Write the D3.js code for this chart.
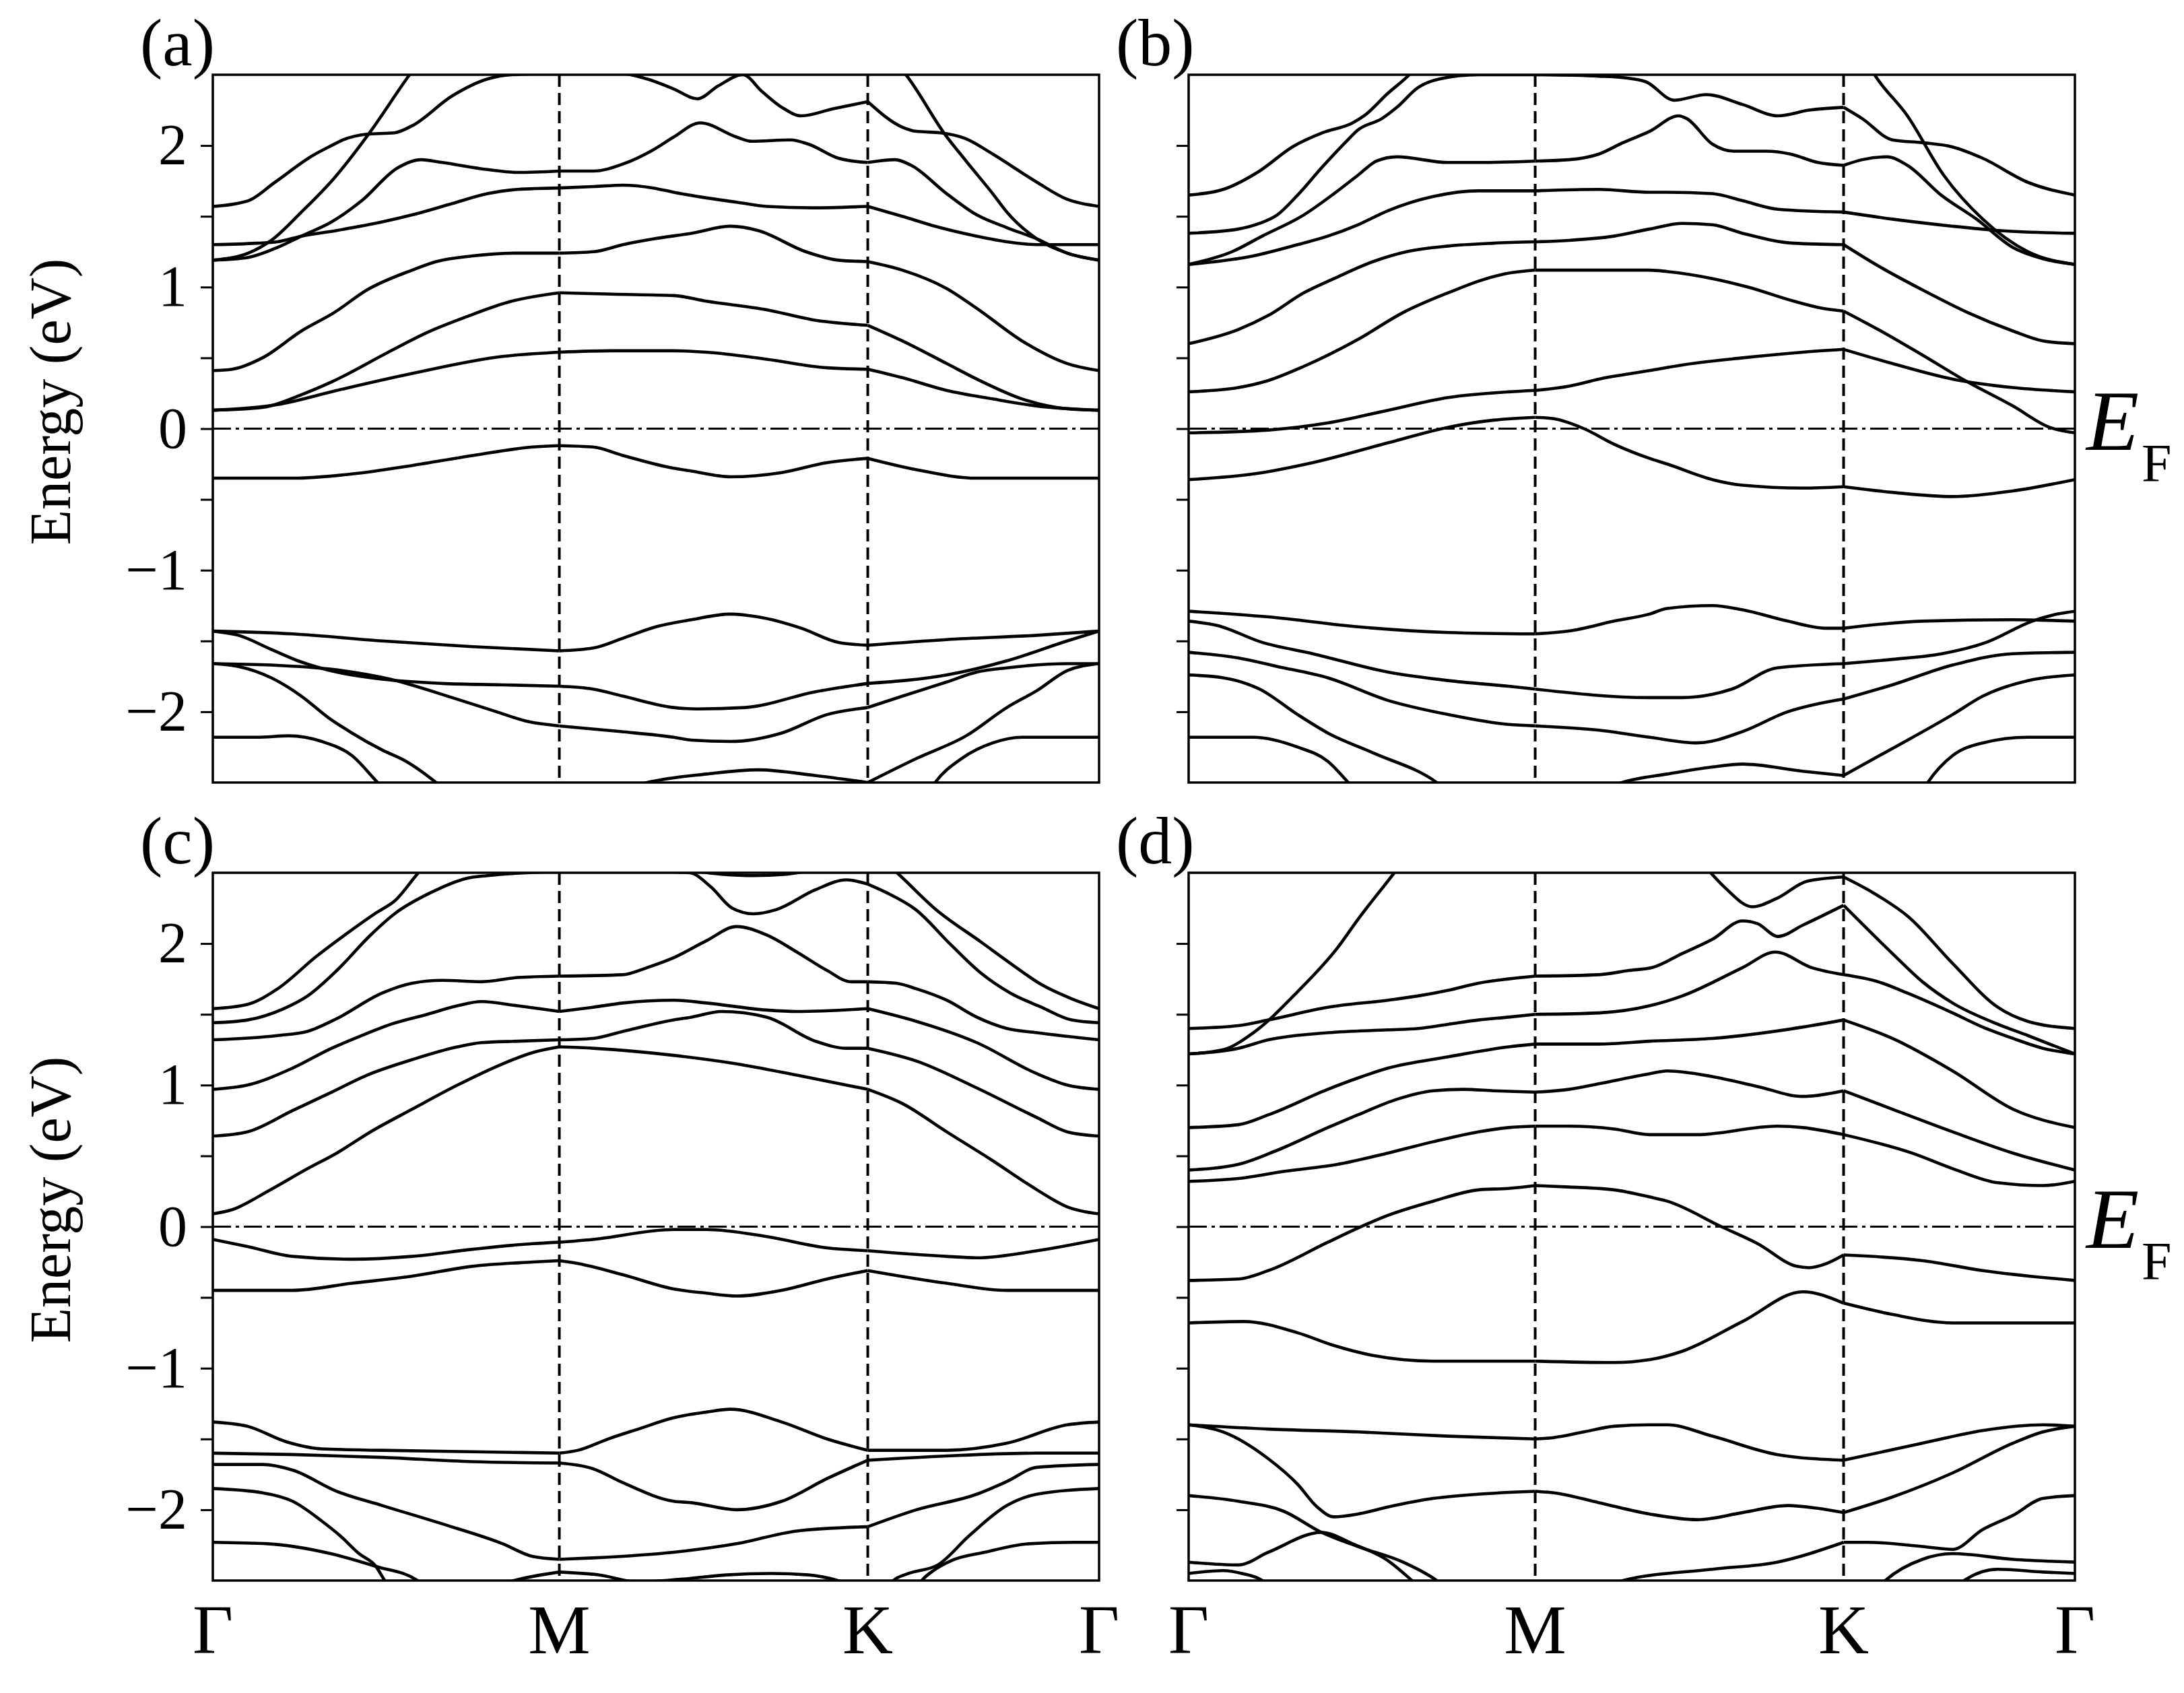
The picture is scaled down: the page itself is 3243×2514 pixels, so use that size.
<!DOCTYPE html>
<html>
<script src="https://d3js.org/d3.v7.min.js"></script>

<head>
    <style>
        body {
            margin: 0;
            background-color: #ffffff;
        }

        svg {
            display: block;
        }
    </style>
</head>

<body>
</body>
<script>
    // k path positions (percent of path length) and names
    const kMarks = [0, 39.1, 73.9, 100];
    const kNames = ["Γ", "M", "K", "Γ"];
    const eTicks = [-2, -1.5, -1, -0.5, 0, 0.5, 1, 1.5, 2];
    const panelTags = ["(a)", "(b)", "(c)", "(d)"];

    // each band: [k, energy in eV]
    const bandsA = [
        [[0,1.57],[4,1.61],[7,1.74],[11.3,1.93],[13.4,2.0],[14.7,2.04],[17.4,2.08],[20.5,2.09],[22.5,2.14],[27,2.35],[31,2.47],[33.7,2.5],[39.1,2.51],[45.9,2.51],[49,2.47],[52,2.4],[54.7,2.33],[57,2.42],[59.8,2.5],[62,2.38],[64.2,2.27],[66.4,2.21],[70,2.26],[73.9,2.31],[77.8,2.13],[79.4,2.10],[82.1,2.09],[84.9,2.05],[88,1.94],[93,1.74],[96.4,1.62],[100,1.57]],
        [[0,1.19],[4,1.21],[7.3,1.28],[10,1.36],[13.4,1.46],[16.8,1.61],[20.8,1.84],[23.5,1.90],[25.9,1.88],[31,1.83],[34.4,1.81],[39.1,1.82],[43,1.82],[46.3,1.87],[49.7,1.97],[52,2.06],[55,2.16],[59.1,2.06],[60.8,2.03],[65.2,2.04],[67.2,2.01],[70.6,1.91],[73.9,1.88],[77,1.90],[78.8,1.86],[82.8,1.66],[86.2,1.51],[89.6,1.42],[93,1.34],[96.4,1.24],[100,1.19]],
        [[0,1.30],[5,1.31],[7.3,1.32],[10,1.36],[14,1.40],[19.1,1.46],[22.5,1.51],[27,1.59],[31,1.66],[34.4,1.69],[39.1,1.70],[43,1.71],[46.3,1.72],[49.7,1.70],[52,1.67],[55.7,1.63],[59.1,1.60],[62.5,1.57],[67.6,1.56],[73.9,1.57],[77.8,1.50],[81.5,1.43],[86.2,1.36],[89.6,1.32],[93,1.30],[100,1.30]],
        [[0,1.19],[4,1.24],[6.6,1.33],[10,1.53],[13.7,1.77],[17.8,2.10],[22.2,2.5],[24,2.65]],
        [[76,2.65],[78.2,2.5],[82.6,2.08],[85,1.89],[88,1.66],[89.6,1.53],[93,1.34],[96.4,1.24],[100,1.19]],
        [[0,0.41],[2.2,0.42],[5.6,0.50],[10,0.69],[13.7,0.82],[17.4,0.98],[22.5,1.12],[25.2,1.18],[29.3,1.22],[34.4,1.24],[39.1,1.24],[43,1.25],[46.3,1.30],[49.7,1.34],[54,1.38],[58.4,1.43],[61.5,1.40],[66.9,1.25],[70.6,1.19],[73.9,1.18],[77.8,1.12],[82.8,0.99],[86.2,0.85],[91.3,0.62],[96.4,0.46],[100,0.41]],
        [[0,0.13],[5.6,0.15],[10,0.24],[13.4,0.33],[19.8,0.54],[24.2,0.68],[28.6,0.79],[33.7,0.90],[39.1,0.96],[45,0.95],[52,0.94],[55.7,0.90],[62.5,0.84],[67.6,0.77],[73.9,0.73],[77.8,0.62],[82.8,0.46],[86.2,0.35],[91.3,0.21],[96.4,0.14],[100,0.13]],
        [[0,0.13],[7.3,0.17],[14,0.27],[22.5,0.39],[32.7,0.51],[39.1,0.54],[45,0.55],[52,0.55],[55.7,0.54],[62.5,0.49],[69.3,0.43],[73.9,0.42],[77.8,0.36],[82.8,0.27],[88,0.21],[93,0.16],[100,0.13]],
        [[0,-0.35],[9,-0.35],[15.7,-0.32],[22.5,-0.26],[29.3,-0.19],[36.1,-0.13],[39.1,-0.12],[42.9,-0.13],[46.3,-0.19],[52,-0.28],[54,-0.30],[58.4,-0.34],[64.2,-0.31],[69.3,-0.24],[73.9,-0.21],[79.4,-0.29],[86.2,-0.35],[100,-0.35]],
        [[0,-1.43],[9,-1.45],[19.1,-1.50],[29.3,-1.54],[39.1,-1.57],[42.9,-1.55],[46.3,-1.48],[50,-1.40],[54,-1.35],[58.4,-1.31],[61.5,-1.33],[66.4,-1.41],[70.6,-1.51],[73.9,-1.53],[82.8,-1.49],[93,-1.46],[100,-1.43]],
        [[0,-1.43],[2.9,-1.46],[6.6,-1.56],[9.6,-1.64],[14,-1.72],[19.1,-1.77],[25.9,-1.80],[32.7,-1.81],[39.1,-1.82],[42.9,-1.84],[46.3,-1.89],[52,-1.97],[54.7,-1.98],[60.1,-1.97],[67.9,-1.86],[73.9,-1.80],[82.8,-1.74],[89.6,-1.64],[96.4,-1.50],[100,-1.43]],
        [[0,-1.66],[6.6,-1.67],[13.4,-1.70],[20,-1.77],[27,-1.90],[32,-2.0],[35.6,-2.07],[39.1,-2.10],[46,-2.14],[52,-2.18],[54,-2.2],[58.4,-2.21],[64.2,-2.15],[69.3,-2.02],[73.9,-1.97],[77.8,-1.89],[82.8,-1.79],[86.2,-1.72],[89.6,-1.69],[96.4,-1.66],[100,-1.66]],
        [[0,-1.66],[2.9,-1.68],[6.6,-1.76],[10,-1.89],[13,-2.04],[15.7,-2.15],[19.1,-2.27],[21.8,-2.35],[25.2,-2.5],[28,-2.65]],
        [[44,-2.6],[49,-2.5],[55.7,-2.44],[61.5,-2.41],[67.9,-2.45],[73.9,-2.50],[79.4,-2.33],[85,-2.17],[89.6,-1.97],[93,-1.85],[96.4,-1.71],[100,-1.66]],
        [[0,-2.18],[5,-2.18],[8.6,-2.17],[12.3,-2.21],[15.7,-2.31],[18.6,-2.5],[21,-2.65]],
        [[80,-2.65],[81.5,-2.5],[84.5,-2.33],[88,-2.22],[91.3,-2.18],[100,-2.18]]
    ];

    const bandsB = [
        [[0,1.65],[3.9,1.69],[8,1.82],[11.7,1.99],[15.1,2.09],[18.5,2.16],[19.8,2.21],[22.5,2.37],[24.9,2.5],[27,2.65]],
        [[0,1.38],[5.6,1.41],[8,1.45],[10,1.51],[12.3,1.65],[15.1,1.85],[17.8,2.03],[19.1,2.11],[21.8,2.19],[23.5,2.27],[25.9,2.41],[28.3,2.47],[32.7,2.50],[39.1,2.50],[46.3,2.49],[49,2.48],[51.6,2.45],[54.8,2.32],[58.4,2.36],[62.5,2.29],[66.5,2.21],[70,2.25],[73.9,2.27],[76,2.19],[79.4,2.04],[82.8,2.02],[86.2,1.99],[89.6,1.91],[94.7,1.74],[100,1.65]],
        [[0,1.16],[4.9,1.25],[8.3,1.36],[13,1.51],[16.4,1.66],[19.1,1.79],[21.2,1.89],[23.5,1.92],[29.3,1.88],[32.7,1.88],[39.1,1.89],[42.9,1.90],[46.3,1.94],[49,2.02],[52,2.10],[55.3,2.21],[56.2,2.19],[59.1,2.01],[61.5,1.96],[65.2,1.96],[67.9,1.94],[71,1.88],[73.9,1.86],[76,1.90],[78.8,1.92],[81.1,1.86],[84.9,1.65],[88.9,1.48],[93,1.28],[96.4,1.20],[100,1.16]],
        [[76,2.65],[77.4,2.5],[81.1,2.21],[85.2,1.79],[89.6,1.48],[94.7,1.25],[100,1.16]],
        [[0,1.16],[7.3,1.22],[12.3,1.30],[15.7,1.36],[19.1,1.44],[22.5,1.54],[27.6,1.64],[32.7,1.68],[39.1,1.68],[46.3,1.69],[52,1.67],[54,1.67],[59.1,1.66],[62.5,1.61],[66.5,1.55],[73.9,1.53],[79.4,1.48],[86.2,1.43],[91.3,1.40],[100,1.38]],
        [[0,0.60],[5.6,0.70],[9,0.80],[13,0.96],[16.4,1.06],[20.8,1.18],[24.6,1.25],[29.3,1.29],[34.4,1.31],[39.1,1.32],[42.9,1.33],[48,1.36],[52,1.41],[55.7,1.45],[59.1,1.44],[62.5,1.38],[68.3,1.31],[73.9,1.30],[77.8,1.15],[82.8,0.98],[87.9,0.82],[93,0.69],[96.4,0.62],[100,0.60]],
        [[0,0.26],[5.6,0.29],[9,0.34],[13,0.44],[19.1,0.63],[24.2,0.82],[29.3,0.96],[35.4,1.09],[39.1,1.12],[45,1.12],[52,1.12],[54,1.11],[59.1,1.06],[63.1,1.00],[68.3,0.90],[71.5,0.85],[73.9,0.83],[77.8,0.70],[82.8,0.52],[87.6,0.34],[93,0.16],[97.1,0.01],[100,-0.03]],
        [[0,-0.03],[9,-0.01],[15.7,0.04],[22.5,0.13],[29.3,0.22],[36.1,0.26],[39.1,0.27],[42.9,0.30],[46.3,0.35],[52,0.41],[55.7,0.45],[62.5,0.50],[69.3,0.54],[73.9,0.56],[79.4,0.46],[86.2,0.35],[93,0.29],[100,0.26]],
        [[0,-0.36],[7.3,-0.32],[14,-0.24],[22.5,-0.10],[29.3,0.01],[34.4,0.06],[39.1,0.08],[41.2,0.07],[44.6,0.0],[48,-0.11],[52,-0.21],[54,-0.25],[59.1,-0.36],[62.5,-0.40],[69.3,-0.42],[73.9,-0.41],[79.4,-0.45],[86.2,-0.48],[93,-0.44],[100,-0.36]],
        [[0,-1.29],[9,-1.33],[19.1,-1.40],[29.3,-1.44],[39.1,-1.45],[42.9,-1.43],[48,-1.36],[52,-1.31],[54,-1.27],[59.1,-1.25],[62.5,-1.28],[67.6,-1.36],[72,-1.41],[73.9,-1.41],[82.8,-1.36],[93,-1.35],[100,-1.36]],
        [[0,-1.36],[3.2,-1.39],[8.3,-1.51],[14,-1.59],[22.5,-1.72],[29.3,-1.78],[36.1,-1.82],[39.1,-1.84],[52,-1.90],[55.7,-1.90],[61.3,-1.84],[66.4,-1.69],[73.9,-1.66],[79.4,-1.63],[85,-1.59],[90,-1.51],[95.2,-1.36],[98,-1.31],[100,-1.29]],
        [[0,-1.58],[5.6,-1.62],[10,-1.68],[15.7,-1.76],[22.5,-1.92],[29.3,-2.02],[36.1,-2.09],[39.1,-2.10],[46.3,-2.13],[52,-2.18],[57.4,-2.22],[62.5,-2.14],[67.6,-2.00],[71.3,-1.94],[73.9,-1.91],[79.4,-1.81],[86.2,-1.67],[93,-1.59],[100,-1.58]],
        [[0,-1.74],[3.9,-1.76],[8,-1.84],[12.3,-2.02],[15.7,-2.15],[20.8,-2.29],[28,-2.5],[30,-2.6]],
        [[0,-2.18],[7.3,-2.18],[12.3,-2.25],[15.7,-2.35],[18,-2.5],[20,-2.65]],
        [[45,-2.6],[48.9,-2.5],[54,-2.44],[59.1,-2.39],[62.5,-2.37],[69.3,-2.42],[73.9,-2.45],[79.4,-2.26],[86.2,-2.02],[89.6,-1.89],[94.7,-1.78],[100,-1.74]],
        [[82,-2.65],[83.4,-2.5],[86.2,-2.31],[89.6,-2.22],[94.7,-2.18],[100,-2.18]]
    ];

    const bandsC = [
        [[0,1.54],[3.9,1.57],[7.3,1.68],[11.7,1.91],[15.1,2.07],[18.5,2.22],[20.5,2.30],[23.2,2.5],[25,2.62]],
        [[75,2.62],[77.2,2.5],[81.6,2.24],[86.7,2.01],[90,1.86],[93.5,1.71],[96.9,1.61],[100,1.54]],
        [[0,1.44],[3.9,1.46],[8,1.54],[10.7,1.63],[14,1.81],[17.8,2.06],[20.5,2.21],[24.6,2.36],[28.6,2.46],[31,2.48],[39.1,2.51],[48.9,2.51],[53.8,2.5],[56.2,2.40],[58.6,2.25],[61,2.21],[63.6,2.24],[68,2.38],[71.5,2.45],[73.9,2.42],[76,2.36],[79.3,2.24],[83.3,1.99],[86.7,1.79],[90,1.65],[93.5,1.55],[96.9,1.46],[100,1.44]],
        [[48,2.55],[53,2.52],[57.4,2.49],[61,2.48],[64.7,2.49],[68,2.52],[72,2.56]],
        [[0,1.32],[7.3,1.35],[10.7,1.38],[14,1.47],[19.1,1.65],[22.5,1.72],[25.9,1.74],[30.3,1.73],[34.4,1.76],[39.1,1.77],[46.3,1.78],[49,1.83],[52,1.90],[55.7,2.02],[59.1,2.12],[62.5,2.06],[65.9,1.94],[69.3,1.81],[72,1.73],[73.9,1.73],[77.1,1.72],[79.4,1.68],[82.8,1.60],[86.2,1.48],[89.6,1.40],[93,1.37],[100,1.32]],
        [[0,0.97],[3.9,1.00],[9,1.12],[13.4,1.26],[16.8,1.35],[20.1,1.43],[24.2,1.50],[27.6,1.56],[30.3,1.59],[34.4,1.56],[39.1,1.52],[42.9,1.55],[46.3,1.58],[52,1.60],[55.7,1.58],[62.5,1.53],[65.9,1.52],[73.9,1.54],[79.4,1.45],[86.2,1.30],[93,1.08],[96.4,1.00],[100,0.97]],
        [[0,0.64],[3.9,0.67],[9,0.82],[13.4,0.95],[17.4,1.07],[22.5,1.18],[27.6,1.27],[30.3,1.30],[34.4,1.31],[39.1,1.32],[42.9,1.33],[46.3,1.38],[52,1.46],[54,1.48],[57.4,1.52],[62.5,1.48],[68,1.31],[71.5,1.26],[73.9,1.26],[79.4,1.17],[86.2,0.98],[93,0.77],[96.4,0.67],[100,0.64]],
        [[0,0.09],[2.2,0.12],[6.2,0.25],[10.7,0.41],[14,0.52],[17.8,0.67],[22.5,0.83],[27.6,1.00],[32.7,1.15],[36.1,1.23],[39.1,1.27],[42.9,1.26],[52,1.21],[59.1,1.15],[65.9,1.07],[73.9,0.97],[77.8,0.87],[82.8,0.67],[87.9,0.47],[93,0.26],[96.4,0.14],[100,0.09]],
        [[0,-0.09],[3.9,-0.14],[9,-0.21],[15.7,-0.23],[22.5,-0.21],[29.3,-0.16],[36.1,-0.12],[39.1,-0.11],[42.9,-0.09],[52,-0.02],[55.7,-0.02],[62.5,-0.07],[69.3,-0.15],[73.9,-0.17],[82.8,-0.21],[86.2,-0.22],[93,-0.17],[100,-0.09]],
        [[0,-0.45],[9,-0.45],[15.7,-0.40],[22.5,-0.35],[29.3,-0.28],[36.1,-0.25],[39.1,-0.24],[41.2,-0.26],[46.3,-0.34],[52,-0.44],[55.7,-0.47],[59.1,-0.49],[64.2,-0.45],[69.3,-0.37],[73.9,-0.31],[82.8,-0.40],[89.6,-0.45],[100,-0.45]],
        [[0,-1.38],[3.9,-1.41],[8.3,-1.52],[12.3,-1.57],[19.1,-1.58],[29.3,-1.59],[39.1,-1.60],[41.2,-1.58],[44.6,-1.50],[48,-1.43],[52,-1.35],[55.7,-1.31],[58.4,-1.29],[64.2,-1.38],[69.3,-1.50],[73.9,-1.58],[82.8,-1.58],[89.6,-1.53],[96.4,-1.40],[100,-1.38]],
        [[0,-1.60],[9,-1.61],[19.1,-1.63],[29.3,-1.66],[39.1,-1.67],[42.9,-1.71],[46.3,-1.81],[52,-1.94],[54,-1.95],[59.1,-2.0],[64.2,-1.94],[69.3,-1.78],[73.9,-1.65],[82.8,-1.62],[93,-1.60],[100,-1.60]],
        [[0,-1.68],[5.6,-1.68],[9,-1.72],[14,-1.87],[19.1,-1.97],[25.9,-2.10],[32.7,-2.24],[36.1,-2.33],[39.1,-2.35],[42.9,-2.34],[52,-2.30],[59.1,-2.24],[65.9,-2.15],[73.9,-2.12],[79.4,-2.0],[86.2,-1.89],[89.6,-1.80],[93,-1.70],[100,-1.68]],
        [[0,-1.85],[5.6,-1.88],[9,-1.94],[12.3,-2.08],[14.3,-2.18],[16.5,-2.31],[18.4,-2.40],[19.4,-2.5],[21,-2.62]],
        [[0,-2.23],[6.2,-2.24],[13.3,-2.31],[18.4,-2.40],[23.1,-2.5],[25,-2.6]],
        [[31,-2.56],[34,-2.5],[39.1,-2.44],[43.5,-2.46],[48,-2.51],[53,-2.49],[58,-2.46],[63,-2.45],[67.2,-2.46],[70.5,-2.5],[73,-2.56]],
        [[75.5,-2.6],[76.8,-2.5],[78.5,-2.45],[81.8,-2.39],[85.4,-2.18],[89.6,-1.97],[93,-1.89],[100,-1.85]],
        [[79,-2.6],[80,-2.5],[81.3,-2.43],[83.3,-2.36],[87.1,-2.30],[92.1,-2.24],[97.2,-2.23],[100,-2.23]]
    ];

    const bandsD = [
        [[0,1.22],[3.9,1.25],[7.3,1.37],[12.3,1.66],[16.8,1.97],[19.1,2.17],[23.2,2.5],[25,2.65]],
        [[57.5,2.6],[58.9,2.5],[60.6,2.39],[63.6,2.26],[66.4,2.32],[69.8,2.44],[73.9,2.47],[77.2,2.36],[81.2,2.19],[86.2,1.86],[91.3,1.55],[94.7,1.45],[100,1.40]],
        [[0,1.40],[5.6,1.42],[9,1.46],[15.7,1.55],[22.5,1.60],[25.9,1.63],[29.3,1.67],[32.7,1.72],[36.1,1.75],[39.1,1.77],[46.3,1.78],[49.7,1.81],[52.3,1.83],[55.7,1.93],[59.1,2.03],[62.5,2.16],[64.2,2.14],[66.5,2.05],[69.3,2.13],[73.9,2.27],[79.4,1.93],[82.8,1.73],[86.2,1.58],[91.3,1.43],[94.7,1.35],[100,1.22]],
        [[0,1.22],[5.6,1.26],[9,1.32],[15.7,1.37],[22.5,1.39],[25.9,1.40],[29.3,1.43],[32.7,1.46],[36.1,1.48],[39.1,1.50],[46.3,1.51],[52,1.56],[55.7,1.63],[62.5,1.83],[66.2,1.94],[70.3,1.83],[73.9,1.78],[77.8,1.73],[81.1,1.65],[86.2,1.51],[89.6,1.41],[93,1.33],[96.4,1.26],[100,1.22]],
        [[0,0.70],[5.6,0.72],[9,0.79],[15.7,0.97],[19.1,1.05],[22.5,1.12],[29.3,1.20],[36.1,1.27],[39.1,1.29],[46.3,1.29],[52,1.31],[59.1,1.33],[69.3,1.41],[73.9,1.46],[79.4,1.33],[86.2,1.10],[93,0.83],[100,0.70]],
        [[0,0.40],[5.6,0.44],[10,0.54],[15.7,0.70],[19.1,0.79],[23.5,0.90],[27.6,0.96],[31,0.97],[34.4,0.96],[39.1,0.95],[42.9,0.97],[46.3,1.01],[52,1.08],[54,1.10],[59.1,1.06],[64.2,0.99],[69.3,0.92],[73.9,0.96],[79.4,0.83],[86.2,0.67],[93,0.52],[100,0.40]],
        [[0,0.32],[5.6,0.34],[10.7,0.39],[16.8,0.44],[22.5,0.52],[27.6,0.60],[32.7,0.67],[36.1,0.70],[39.1,0.71],[42.9,0.71],[48,0.69],[52,0.65],[57.4,0.65],[66.4,0.71],[69.3,0.70],[73.9,0.65],[81.6,0.52],[86.2,0.41],[91.3,0.31],[96.4,0.29],[100,0.32]],
        [[0,-0.38],[5.6,-0.37],[9,-0.31],[15.7,-0.11],[19.1,-0.01],[22.5,0.08],[27.6,0.18],[32.7,0.26],[36.1,0.27],[39.1,0.29],[42.9,0.28],[48,0.26],[52,0.21],[54,0.18],[60.1,0],[64.2,-0.12],[68.6,-0.28],[70,-0.29],[72,-0.26],[73.9,-0.20],[82.8,-0.24],[89.6,-0.31],[100,-0.38]],
        [[0,-0.68],[6.2,-0.67],[12.3,-0.75],[16.4,-0.84],[20.8,-0.91],[27.6,-0.95],[39.1,-0.95],[48,-0.96],[52,-0.94],[55.7,-0.88],[62.5,-0.67],[69.3,-0.46],[73.9,-0.54],[79.4,-0.62],[86.2,-0.68],[100,-0.68]],
        [[0,-1.40],[9,-1.43],[19.1,-1.45],[29.3,-1.48],[39.1,-1.50],[41.2,-1.49],[44.6,-1.45],[48,-1.41],[52,-1.40],[54,-1.40],[59.1,-1.48],[66.4,-1.61],[73.9,-1.65],[82.8,-1.53],[89.6,-1.44],[96.4,-1.40],[100,-1.41]],
        [[0,-1.40],[3.9,-1.45],[9,-1.64],[12.3,-1.82],[14.5,-1.98],[16.4,-2.05],[19.1,-2.03],[22.5,-1.98],[27.6,-1.92],[32.7,-1.89],[39.1,-1.87],[41.2,-1.88],[46.3,-1.95],[52,-2.03],[57.4,-2.07],[62.5,-2.02],[67.6,-1.97],[71,-1.99],[73.9,-2.02],[79.4,-1.91],[86.2,-1.74],[93,-1.53],[96.4,-1.45],[100,-1.41]],
        [[0,-1.90],[5.6,-1.94],[10.7,-2.01],[15,-2.16],[19.1,-2.26],[24.2,-2.37],[28,-2.5],[30,-2.6]],
        [[0,-2.37],[5.6,-2.39],[9,-2.30],[15,-2.16],[18.5,-2.24],[22.5,-2.36],[25.2,-2.5],[27,-2.6]],
        [[0,-2.45],[3.9,-2.43],[6,-2.45],[8.3,-2.5],[10,-2.6]],
        [[47,-2.6],[49,-2.5],[59.1,-2.42],[66.4,-2.37],[73.9,-2.23],[76.6,-2.23],[82.8,-2.26],[86.2,-2.28],[89.6,-2.14],[93,-2.04],[96.4,-1.92],[100,-1.90]],
        [[77,-2.6],[78.6,-2.5],[82.8,-2.35],[86.2,-2.31],[93,-2.35],[100,-2.37]],
        [[86,-2.6],[87.5,-2.5],[91.3,-2.42],[96.4,-2.44],[100,-2.45]]
    ];

    const width = 3243,
        height = 2514;
    const serif = '"Liberation Serif", "Times New Roman", serif';
    const svg = d3.select("body").append("svg").attr("width", width).attr("height", height);
    svg.append("rect").attr("width", width).attr("height", height).attr("fill", "#fff");

    const cols = [[316, 1632], [1765, 3081]];
    const rows = [[111, 1162], [1296, 2347]];

    const panels = [
        { tag: panelTags[0], bands: bandsA, col: 0, row: 0 },
        { tag: panelTags[1], bands: bandsB, col: 1, row: 0 },
        { tag: panelTags[2], bands: bandsC, col: 0, row: 1 },
        { tag: panelTags[3], bands: bandsD, col: 1, row: 1 }
    ];

    // break a band at M and K so the kinks stay sharp
    function splitBand(b) {
        const segs = [];
        let cur = [b[0]];
        for (let j = 1; j < b.length; j++) {
            cur.push(b[j]);
            if ((b[j][0] === kMarks[1] || b[j][0] === kMarks[2]) && j < b.length - 1) {
                segs.push(cur);
                cur = [b[j]];
            }
        }
        segs.push(cur);
        return segs;
    }

    function drawPanel(p, i) {
        const [x0, x1] = cols[p.col];
        const [y0, y1] = rows[p.row];
        const x = d3.scaleLinear().domain([0, 100]).range([x0, x1]);
        const y = d3.scaleLinear().domain([-2.5, 2.5]).range([y1, y0]);
        const g = svg.append("g");

        g.append("clipPath").attr("id", "clip" + i)
            .append("rect")
            .attr("x", x0).attr("y", y0)
            .attr("width", x1 - x0).attr("height", y1 - y0);
        const plot = g.append("g").attr("clip-path", `url(#clip${i})`);

        plot.selectAll("line.hs")
            .data(kMarks.slice(1, 3))
            .join("line")
            .attr("x1", d => x(d)).attr("x2", d => x(d))
            .attr("y1", y0).attr("y2", y1)
            .attr("stroke", "#000").attr("stroke-width", 4)
            .attr("stroke-dasharray", "18,9");

        plot.append("line")
            .attr("x1", x0).attr("x2", x1)
            .attr("y1", y(0)).attr("y2", y(0))
            .attr("stroke", "#000").attr("stroke-width", 3)
            .attr("stroke-dasharray", "27,7,5,7");

        const line = d3.line()
            .x(d => x(d[0]))
            .y(d => y(d[1]))
            .curve(d3.curveMonotoneX);

        plot.selectAll("path.band")
            .data(p.bands.flatMap(splitBand))
            .join("path")
            .attr("d", line)
            .attr("fill", "none")
            .attr("stroke", "#000")
            .attr("stroke-width", 4.6)
            .attr("stroke-linejoin", "round");

        const axis = d3.axisLeft(y)
            .tickValues(eTicks)
            .tickSize(18)
            .tickPadding(20)
            .tickFormat(d => (p.col === 0 && Number.isInteger(d)) ? d3.format("d")(d) : "");
        const ag = g.append("g")
            .attr("transform", `translate(${x0},0)`)
            .call(axis)
            .attr("font-family", serif)
            .attr("font-size", 86);
        ag.select(".domain").remove();
        ag.selectAll(".tick line").attr("stroke-width", 3);

        g.append("rect")
            .attr("x", x0).attr("y", y0)
            .attr("width", x1 - x0).attr("height", y1 - y0)
            .attr("fill", "none").attr("stroke", "#000").attr("stroke-width", 3.5);

        g.append("text")
            .attr("x", x0 - 108).attr("y", y0 - 14)
            .attr("font-family", serif).attr("font-size", 100)
            .text(p.tag);

        if (p.col === 0) {
            g.append("text")
                .attr("transform", `translate(104,${(y0 + y1) / 2 - 40}) rotate(-90)`)
                .attr("text-anchor", "middle")
                .attr("font-family", serif).attr("font-size", 86)
                .text("Energy (eV)");
        } else {
            g.append("text")
                .attr("x", x1 + 17).attr("y", y(0) + 31)
                .attr("font-family", serif).attr("font-size", 128)
                .attr("font-style", "italic")
                .text("E");
            g.append("text")
                .attr("x", x1 + 99).attr("y", y(0) + 78)
                .attr("font-family", serif).attr("font-size", 80)
                .text("F");
        }

        if (p.row === 1) {
            g.selectAll("text.k")
                .data(kMarks)
                .join("text")
                .attr("x", d => x(d))
                .attr("y", y1 + 108)
                .attr("text-anchor", "middle")
                .attr("font-family", serif).attr("font-size", 104)
                .text((d, j) => kNames[j]);
        }
    }

    panels.forEach(drawPanel);
</script>

</html>
